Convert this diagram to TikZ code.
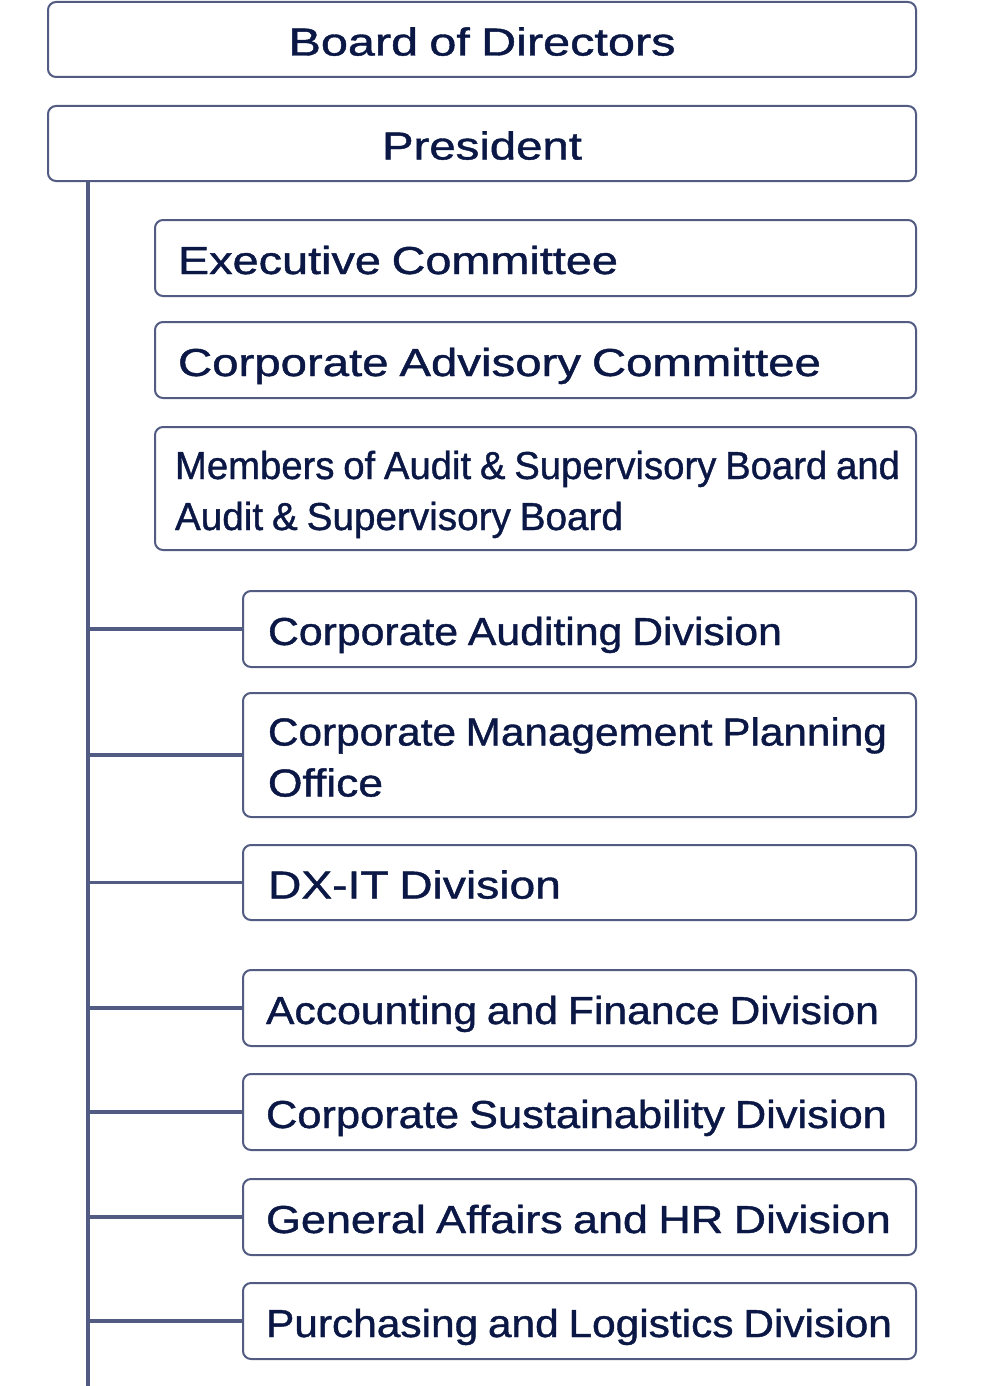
\documentclass[tikz,border=0pt]{standalone}
\usepackage{fontspec}
\setmainfont{Liberation Sans}
\newfontfamily\labfont{Liberation Sans}[FakeBold=1.0]
\usepackage{graphicx}
\definecolor{bordc}{HTML}{525C82}
\definecolor{txtc}{HTML}{0B1846}
\newsavebox\fitbox
\newlength\fitlen
\newcommand\fitx[2]{\sbox\fitbox{\spaceskip=0.23em\relax #2}\fitlen=\wd\fitbox\pgfmathsetmacro\fitf{#1/\fitlen}\raisebox{-16pt}[0pt][0pt]{\scalebox{\fitf}[1]{\usebox\fitbox}}}
\tikzset{
  box/.style={draw=bordc, line width=2pt, rounded corners=8pt, fill=white,
    inner xsep=0pt, inner ysep=0pt, text=txtc,
    font=\labfont\fontsize{39}{51}\selectfont},
  cbox/.style={box, align=center},
  lbox/.style={box, align=left},
  conn/.style={draw=bordc, line width=3.6pt},
}
\begin{document}
\begin{tikzpicture}[x=1pt,y=1pt]
\useasboundingbox (0,0) rectangle (991,-1386);
% top boxes
\node[cbox, minimum width=868, minimum height=75, text width=868] (bod) at (482,-39.5) {\fitx{387}{Board of Directors}};
\node[cbox, minimum width=868, minimum height=75, text width=868] (pres) at (482,-143.5) {\fitx{200}{President}};
% committees
\node[lbox, minimum width=761, minimum height=76, text width=761] (exec) at (535.5,-258) {\hspace*{23pt}\fitx{440}{Executive Committee}};
\node[lbox, minimum width=761, minimum height=76, text width=761] (cac) at (535.5,-360) {\hspace*{23pt}\fitx{643}{Corporate Advisory Committee}};
\node[lbox, minimum width=761, minimum height=123, text width=761] (asb) at (535.5,-488.5) {\hspace*{20pt}\fitx{725}{Members of Audit \& Supervisory Board and}\\\hspace*{20pt}\fitx{448}{Audit \& Supervisory Board}};
% divisions
\node[lbox, minimum width=673, minimum height=76, text width=673] (aud) at (579.5,-629) {\hspace*{25pt}\fitx{514}{Corporate Auditing Division}};
\node[lbox, minimum width=673, minimum height=124, text width=673] (cmpo) at (579.5,-755) {\hspace*{25pt}\fitx{619}{Corporate Management Planning}\\\hspace*{25pt}\fitx{115}{Office}};
\node[lbox, minimum width=673, minimum height=75, text width=673] (dxit) at (579.5,-882.5) {\hspace*{25pt}\fitx{293}{DX-IT Division}};
\node[lbox, minimum width=673, minimum height=76, text width=673] (acc) at (579.5,-1008) {\hspace*{23pt}\fitx{613}{Accounting and Finance Division}};
\node[lbox, minimum width=673, minimum height=76, text width=673] (sus) at (579.5,-1112) {\hspace*{23pt}\fitx{621}{Corporate Sustainability Division}};
\node[lbox, minimum width=673, minimum height=76, text width=673] (gahr) at (579.5,-1217) {\hspace*{23pt}\fitx{625}{General Affairs and HR Division}};
\node[lbox, minimum width=673, minimum height=76, text width=673] (pur) at (579.5,-1321) {\hspace*{23pt}\fitx{626}{Purchasing and Logistics Division}};
% connectors
\coordinate (vtop) at (88,-181);
\coordinate (vbot) at (88,-1386);
\draw[conn] (vtop) -- (vbot);
\foreach \n in {aud,cmpo,dxit,acc,sus,gahr,pur}{
  \draw[conn] (\n.west -| vtop) -- (\n.west);
}
\end{tikzpicture}
\end{document}
